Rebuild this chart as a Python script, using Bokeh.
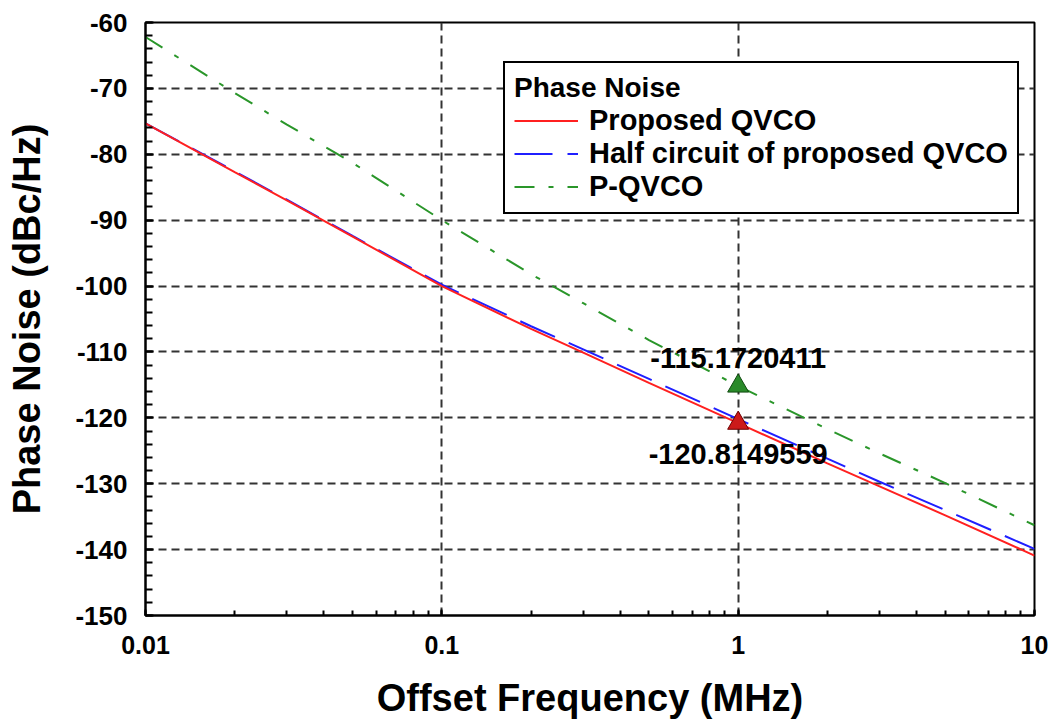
from bokeh.plotting import figure
from bokeh.models import (ColumnDataSource, Legend, LegendItem, SingleIntervalTicker,
                          LogTicker, Range1d)
from bokeh.embed import file_html
from bokeh.resources import INLINE
from bokeh.core.properties import value

# Offset frequency (MHz) and simulated phase noise (dBc/Hz)
offset_mhz = [0.01, 0.02, 0.03, 0.05, 0.1, 0.2, 0.3, 0.5, 1, 2, 3, 5, 10]
proposed_qvco = [-75.3, -82.7, -87.0, -92.5, -100.0, -106.5, -110.1, -114.7,
                 -120.8149559, -126.9, -130.4, -134.8, -140.9]
half_circuit = [-75.3, -82.6, -86.9, -92.4, -99.8, -106.1, -109.6, -114.1,
                -120.2, -126.2, -129.7, -134.0, -139.9]
p_qvco = [-62.2, -70.7, -75.5, -81.3, -90.0, -98.2, -102.6, -108.2,
          -115.1720411, -121.7, -125.4, -129.9, -136.3]

# Axis tick labels
x_ticks = [0.01, 0.1, 1, 10]
x_tick_labels = ["0.01", "0.1", "1", "10"]
y_ticks = [-150, -140, -130, -120, -110, -100, -90, -80, -70, -60]
y_tick_labels = ["-150", "-140", "-130", "-120", "-110", "-100", "-90", "-80", "-70", "-60"]

# Readouts at 1 MHz offset
marker_freq = [1, 1]
marker_values = [-115.1720411, -120.8149559]
marker_fill = ["#2a8a2a", "#cc1a1a"]
marker_line = ["#0f4a0f", "#6e0000"]
marker_text = [str(v) for v in marker_values]
marker_dy = [-28, 31]

FONT = "Liberation Sans"

p = figure(width=1056, height=723, x_axis_type="log",
           x_range=Range1d(0.01, 10), y_range=Range1d(-150, -60),
           output_backend="svg", toolbar_location=None,
           min_border_left=145, min_border_right=22,
           min_border_top=22, min_border_bottom=108)

p.background_fill_color = "white"
p.border_fill_color = "white"
p.outline_line_color = "black"
p.outline_line_width = 2
p.outline_line_alpha = 1.0

# Axes
xa = p.xaxis[0]
ya = p.yaxis[0]
xa.ticker = LogTicker(num_minor_ticks=10)
ya.ticker = SingleIntervalTicker(interval=10, num_minor_ticks=5)
for ax in (xa, ya):
    ax.axis_line_color = "black"
    ax.axis_line_width = 2
    ax.major_tick_line_color = "black"
    ax.major_tick_line_width = 2
    ax.minor_tick_line_color = "black"
    ax.minor_tick_line_width = 2
    ax.major_tick_out = 0
    ax.minor_tick_out = 0
    ax.major_label_text_font = FONT
    ax.major_label_text_font_style = "bold"
    ax.major_label_text_color = "black"
    ax.axis_label_text_font = FONT
    ax.axis_label_text_font_style = "bold"
    ax.axis_label_text_font_size = "38px"
    ax.axis_label_text_color = "black"

xa.major_label_text_font_size = "25px"
ya.major_label_text_font_size = "26px"
xa.major_tick_in = 6
xa.minor_tick_in = 5
ya.major_tick_in = 8
ya.minor_tick_in = 7
xa.axis_label = "Offset Frequency (MHz)"
ya.axis_label = "Phase Noise (dBc/Hz)"
xa.major_label_standoff = 20
ya.major_label_standoff = 18
xa.axis_label_standoff = 20
ya.axis_label_standoff = 24
xa.major_label_overrides = dict(zip(x_ticks, x_tick_labels))
ya.major_label_overrides = dict(zip(y_ticks, y_tick_labels))

# Dashed grid at the major ticks
for g in (p.xgrid[0], p.ygrid[0]):
    g.grid_line_color = "#333333"
    g.grid_line_width = 2
    g.grid_line_dash = "8 5"

# Curves
src = ColumnDataSource(dict(f=offset_mhz, prop=proposed_qvco,
                            half=half_circuit, pq=p_qvco))
r_pq = p.line("f", "pq", source=src, line_color="#2a962a", line_width=2,
              line_dash="20 14 5 14")
r_half = p.line("f", "half", source=src, line_color="#1f1fff", line_width=2,
                line_dash="38 15")
r_prop = p.line("f", "prop", source=src, line_color="#ff2020", line_width=2)

# Markers and their readouts
msrc = ColumnDataSource(dict(f=marker_freq, v=marker_values, fill=marker_fill,
                             edge=marker_line, txt=marker_text, dy=marker_dy))
p.scatter("f", "v", source=msrc, marker="triangle", size=21,
          fill_color="fill", line_color="edge", line_width=1)
p.text("f", "v", text="txt", source=msrc, y_offset="dy",
       text_font=value(FONT), text_font_style="bold", text_font_size="29px",
       text_align="center", text_baseline="middle", text_color="black")

legend = Legend(items=[
    LegendItem(label="Proposed QVCO", renderers=[r_prop]),
    LegendItem(label="Half circuit of proposed QVCO", renderers=[r_half]),
    LegendItem(label="P-QVCO", renderers=[r_pq]),
], location=(358, 401))
legend.title = "Phase Noise"
legend.title_text_font = FONT
legend.title_text_font_style = "bold"
legend.title_text_font_size = "28px"
legend.title_text_color = "black"
legend.title_standoff = 0
legend.label_text_font = FONT
legend.label_text_font_style = "bold"
legend.label_text_font_size = "29px"
legend.label_text_color = "black"
legend.label_standoff = 11
legend.glyph_width = 64
legend.glyph_height = 33
legend.label_height = 33
legend.spacing = 0
legend.padding = 9
legend.margin = 0
legend.border_line_color = "black"
legend.border_line_width = 2
legend.border_line_alpha = 1.0
legend.background_fill_color = "white"
legend.background_fill_alpha = 1.0
p.add_layout(legend)

open("out.html", "w").write(file_html(p, INLINE))
